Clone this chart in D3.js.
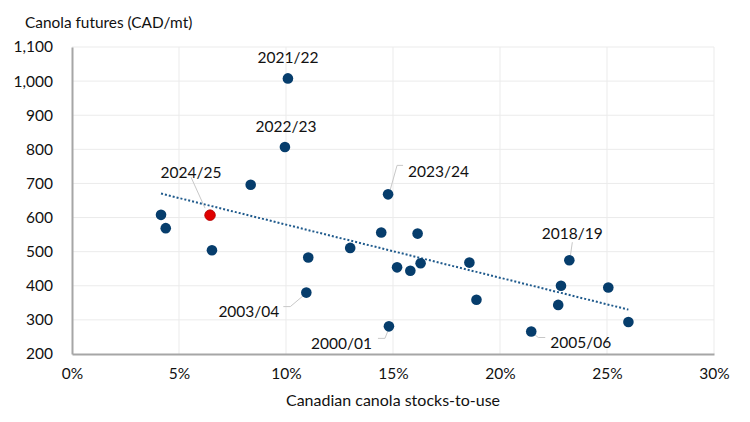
<!DOCTYPE html>
<html>
<head>
<meta charset="utf-8">
<script src="https://cdn.jsdelivr.net/npm/d3@7"></script>
<style>
  body { margin: 0; background: #fff; }
  text { font-family: Lato, "Open Sans", sans-serif; fill: #111; }
</style>
</head>
<body>
<svg id="chart"></svg>
<script>
var width = 750,
    height = 422;

// Stocks-to-use (%) and canola futures (CAD/mt), one entry per crop year
var stocksToUse = [4.16, 4.38, 6.45, 6.54, 8.35, 9.95, 10.09, 10.95, 11.04, 13.0,
                   14.45, 14.77, 14.81, 15.19, 15.81, 16.15, 16.29, 18.57, 18.9,
                   21.46, 22.72, 22.85, 23.24, 25.06, 26.0];
var futures = [608, 569, 607, 504, 696, 807, 1008, 380, 483, 511,
               556, 668, 281, 454, 444, 553, 466, 468, 359,
               266, 344, 400, 475, 395, 294];
var seasons = ['', '', '2024/25', '', '', '2022/23', '2021/22', '2003/04', '', '',
               '', '2023/24', '2000/01', '', '', '', '', '', '',
               '2005/06', '', '', '2018/19', '', ''];

var xTicks = [0, 5, 10, 15, 20, 25, 30];
var yTicks = [200, 300, 400, 500, 600, 700, 800, 900, 1000, 1100];

var margin = {top: 47, right: 36, bottom: 68, left: 72};

var x = d3.scaleLinear()
    .domain([0, 30])
    .range([margin.left, width - margin.right]);

var y = d3.scaleLinear()
    .domain([200, 1100])
    .range([height - margin.bottom, margin.top]);

var svg = d3.select('#chart')
    .attr('width', width)
    .attr('height', height);

// Gridlines
svg.append('g')
    .selectAll('line')
    .data(yTicks.slice(1))
    .enter().append('line')
    .attr('x1', x(0)).attr('x2', x(30))
    .attr('y1', function (d) { return y(d); })
    .attr('y2', function (d) { return y(d); })
    .attr('stroke', '#ebebeb')
    .attr('stroke-width', 1);

svg.append('g')
    .selectAll('line')
    .data(xTicks.slice(1))
    .enter().append('line')
    .attr('y1', y(200)).attr('y2', y(1100))
    .attr('x1', function (d) { return x(d); })
    .attr('x2', function (d) { return x(d); })
    .attr('stroke', '#ebebeb')
    .attr('stroke-width', 1);

// Axes
var xAxis = d3.axisBottom(x)
    .tickValues(xTicks)
    .tickSize(0)
    .tickPadding(14)
    .tickFormat(function (d) { return d + '%'; });

var yAxis = d3.axisLeft(y)
    .tickValues(yTicks)
    .tickSize(0)
    .tickPadding(19)
    .tickFormat(d3.format(','));

var gx = svg.append('g')
    .attr('transform', 'translate(0,' + y(200) + ')')
    .call(xAxis);
var gy = svg.append('g')
    .attr('transform', 'translate(' + x(0) + ',0)')
    .call(yAxis);

[gx, gy].forEach(function (g) {
    g.select('.domain').attr('stroke', '#a6a6a6').attr('stroke-width', 2);
    g.selectAll('text')
        .style('font-size', '15.5px')
        .attr('fill', '#111');
});

// Axis titles
svg.append('text')
    .attr('x', 25)
    .attr('y', 28)
    .style('font-size', '15.4px')
    .text('Canola futures (CAD/mt)');

svg.append('text')
    .attr('x', 393)
    .attr('y', 406)
    .attr('text-anchor', 'middle')
    .style('font-size', '16px')
    .text('Canadian canola stocks-to-use');

// Linear trend line (least squares)
var mx = d3.mean(stocksToUse), my = d3.mean(futures);
var sxy = d3.sum(stocksToUse, function (v, i) { return (v - mx) * (futures[i] - my); });
var sxx = d3.sum(stocksToUse, function (v) { return (v - mx) * (v - mx); });
var slope = sxy / sxx, intercept = my - slope * mx;
var xMin = d3.min(stocksToUse), xMax = d3.max(stocksToUse);

svg.append('line')
    .attr('x1', x(xMin)).attr('y1', y(intercept + slope * xMin))
    .attr('x2', x(xMax)).attr('y2', y(intercept + slope * xMax))
    .attr('stroke', '#1f5a8c')
    .attr('stroke-width', 2)
    .attr('stroke-dasharray', '2,2');

// Leader lines for labelled points, as offsets from the point
var leaders = {
    '2024/25': [[-19, -38], [-5, -7]],
    '2023/24': [[15, -29], [9, -29], [2, -4]],
    '2003/04': [[-23, 14], [-16, 14], [-3, 3]],
    '2000/01': [[-11, 12], [-4, 12], [0, 2]],
    '2005/06': [[2, 2], [7, 6], [14, 6]],
    '2018/19': [[3, -18], [1, -4]]
};
var labelPos = {
    '2021/22': [0, -21, 'middle'],
    '2022/23': [1, -20, 'middle'],
    '2024/25': [-19, -43, 'middle'],
    '2023/24': [20, -23, 'start'],
    '2003/04': [-27, 19, 'end'],
    '2000/01': [-17, 17, 'end'],
    '2005/06': [19, 11, 'start'],
    '2018/19': [3, -27, 'middle']
};

var pts = stocksToUse.map(function (v, i) {
    return {s: v, f: futures[i], season: seasons[i]};
});

svg.append('g')
    .selectAll('polyline')
    .data(pts.filter(function (d) { return leaders[d.season]; }))
    .enter().append('polyline')
    .attr('points', function (d) {
        return leaders[d.season].map(function (o) {
            return (x(d.s) + o[0]) + ',' + (y(d.f) + o[1]);
        }).join(' ');
    })
    .attr('fill', 'none')
    .attr('stroke', '#c8c8c8')
    .attr('stroke-width', 1);

// Points
svg.append('g')
    .selectAll('circle')
    .data(pts)
    .enter().append('circle')
    .attr('cx', function (d) { return x(d.s); })
    .attr('cy', function (d) { return y(d.f); })
    .attr('r', 5.3)
    .attr('fill', function (d) { return d.season === '2024/25' ? '#e00000' : '#063d6c'; })
    .attr('stroke', function (d) { return d.season === '2024/25' ? '#b00000' : 'none'; })
    .attr('stroke-width', 0.8);

// Season labels
svg.append('g')
    .selectAll('text')
    .data(pts.filter(function (d) { return labelPos[d.season]; }))
    .enter().append('text')
    .attr('x', function (d) { return x(d.s) + labelPos[d.season][0]; })
    .attr('y', function (d) { return y(d.f) + labelPos[d.season][1]; })
    .attr('dy', '0.35em')
    .attr('text-anchor', function (d) { return labelPos[d.season][2]; })
    .style('font-size', '15.5px')
    .text(function (d) { return d.season; });
</script>
</body>
</html>
